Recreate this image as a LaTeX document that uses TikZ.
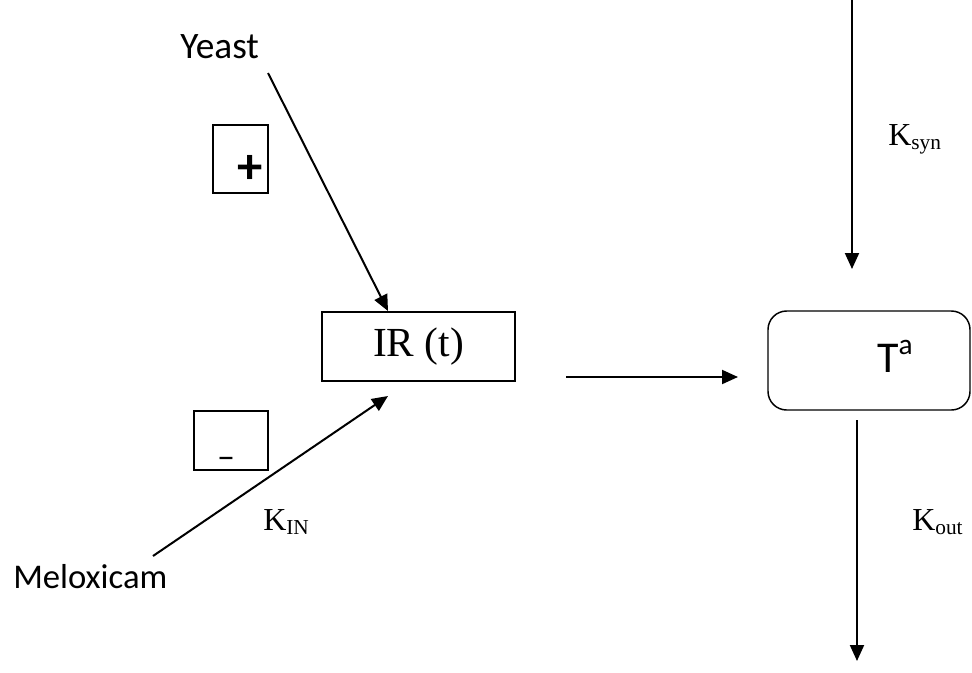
\documentclass[tikz,border=0pt]{standalone}
\usepackage{fontspec}
\setmainfont{Liberation Serif}
\newfontfamily\carlitofont{Carlito}
\usetikzlibrary{arrows.meta}
\newcommand{\ksub}[1]{{\fontsize{16}{16}\selectfont\raisebox{-3.5pt}{#1}}}
\begin{document}
\begin{tikzpicture}[x=0.75pt,y=-0.75pt,
  arr/.style={line width=1.5pt,-{Triangle[length=12pt,width=10.5pt]}},
  sbox/.style={draw,line width=1.1pt,inner sep=0pt},
  lab/.style={font=\carlitofont\fontsize{27}{30}\selectfont,inner sep=0pt,anchor=base west},
  klab/.style={font=\fontsize{24}{26}\selectfont,inner sep=0pt,anchor=base west}]
\useasboundingbox (0,0) rectangle (972,672);
% boxes
\node[sbox,minimum width=144.75pt,minimum height=51.75pt,font=\fontsize{31}{33}\selectfont] (ir) at (418.5,346.5) {IR (t)};
\node[draw,line width=1.1pt,rounded corners=14pt,minimum width=151.5pt,minimum height=74.25pt,inner sep=0pt] (T) at (869,360.5) {};
\node[lab,font=\carlitofont\fontsize{33}{36}\selectfont] (Ta) at (877,372) {T\raisebox{13pt}{\fontsize{22}{22}\selectfont a}};
\node[sbox,minimum width=41.25pt,minimum height=51pt] (plus) at (240.5,159) {};
\node[font=\carlitofont\bfseries\fontsize{38}{38}\selectfont,inner sep=0pt] (pl) at (250,169) {+};
\node[sbox,minimum width=55.5pt,minimum height=44.25pt] (minus) at (231,440.5) {};
\node[font=\carlitofont\fontsize{27}{27}\selectfont,inner sep=0pt,anchor=base] (mi) at (226,468) {–};
% texts
\node[lab,font=\carlitofont\fontsize{28}{30}\selectfont] (yeast) at (180,58) {Yeast};
\node[lab,font=\carlitofont\fontsize{26}{30}\selectfont] (melox) at (13,588) {Meloxicam};
\node[klab] (kin) at (263,530) {K\ksub{IN}};
\node[klab] (ksyn) at (888,145) {K\ksub{syn}};
\node[klab] (kout) at (912,530) {K\ksub{out}};
% coordinates
\coordinate (ys) at (268,73);
\coordinate (ms) at (153,556);
\coordinate (hs) at (566,377);
\coordinate (ht) at (738,377);
\coordinate (st) at (852,0);
\coordinate (se) at (852,269);
\coordinate (os) at (857,420);
\coordinate (oe) at (857,661);
\coordinate (yt) at (388,311);
\coordinate (mt) at (388,396);
% arrows
\draw[arr] (ys) -- (yt);
\draw[arr] (ms) -- (mt);
\draw[arr] (hs) -- (ht);
\draw[arr] (st) -- (se);
\draw[arr] (os) -- (oe);
\end{tikzpicture}
\end{document}
